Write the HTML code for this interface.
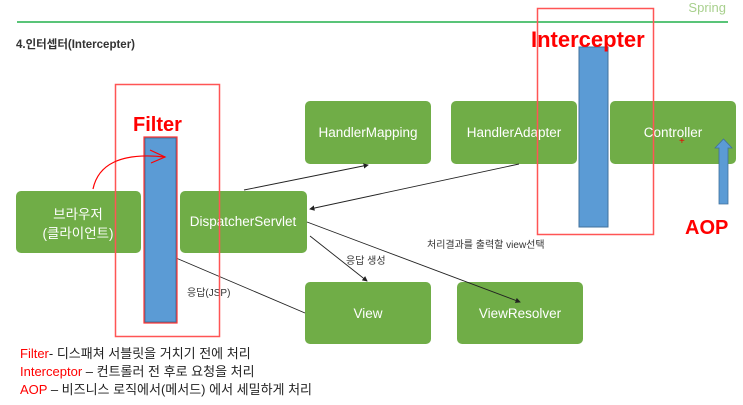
<!DOCTYPE html>
<html><head><meta charset="utf-8"><style>
html,body{margin:0;padding:0;background:#fff;width:743px;height:405px;overflow:hidden}
svg{display:block}
text{font-family:"Liberation Sans","Noto Sans CJK KR",sans-serif}
</style></head><body>
<svg width="743" height="405" viewBox="0 0 743 405">
<defs>
<marker id="a" markerWidth="6" markerHeight="6" refX="5" refY="3" orient="auto"><path d="M0,0 L6,3 L0,6 z" fill="#222"/></marker>
</defs>
<text x="726" y="12" font-size="13" fill="#a8d08d" text-anchor="end">Spring</text>
<line x1="17" y1="22" x2="728" y2="22" stroke="#22b04c" stroke-width="1.5"/>
<text x="16" y="48" font-size="11.5" font-weight="bold" fill="#333">4.인터셉터(Intercepter)</text>

<g fill="#70ad47">
<rect x="305" y="101" width="126" height="63" rx="5"/>
<rect x="451" y="101" width="126" height="63" rx="5"/>
<rect x="610" y="101" width="126" height="63" rx="5"/>
<rect x="16" y="191" width="125" height="62" rx="5"/>
<rect x="180" y="191" width="127" height="62" rx="5"/>
<rect x="305" y="282" width="126" height="62" rx="5"/>
<rect x="457" y="282" width="126" height="62" rx="5"/>
</g>
<g fill="#fff" font-size="13.5" text-anchor="middle">
<text x="368" y="137">HandlerMapping</text>
<text x="514" y="137">HandlerAdapter</text>
<text x="673" y="137">Controller</text>
<text x="78" y="219">브라우저</text>
<text x="78" y="238">(클라이언트)</text>
<text x="243" y="226">DispatcherServlet</text>
<text x="368" y="318">View</text>
<text x="520" y="318">ViewResolver</text>
</g>
<text x="679" y="144" font-size="10" fill="#e00">+</text>

<g stroke="#222" stroke-width="0.9" fill="none" marker-end="url(#a)">
<line x1="244" y1="190" x2="368" y2="165"/>
<line x1="519" y1="164" x2="310" y2="209"/>
<line x1="307" y1="222" x2="520" y2="302"/>
<line x1="310" y1="236" x2="367" y2="281"/>
<line x1="305" y1="313" x2="176" y2="258" marker-end="none"/>
<line x1="145" y1="245" x2="144" y2="243"/>
</g>
<g font-size="10" fill="#333">
<text x="346" y="264">응답 생성</text>
<text x="427" y="248">처리결과를 출력할 view선택</text>
<text x="187" y="296">응답(JSP)</text>
</g>

<!-- Filter -->
<rect x="145" y="138" width="31" height="184" fill="#5b9bd5" stroke="#41719c" stroke-width="1"/>
<rect x="144" y="137" width="33" height="186" fill="none" stroke="#f33" stroke-width="1.2"/>
<rect x="115.5" y="84.5" width="104" height="252" fill="none" stroke="#f55" stroke-width="1.5"/>
<text x="133" y="131" font-size="20" font-weight="bold" fill="#f00">Filter</text>
<path d="M93,189 C98,165 120,152 165,157" stroke="#f00" stroke-width="1.2" fill="none"/>
<path d="M150,150 L165,157 L151,163" stroke="#f00" stroke-width="1.2" fill="none"/>

<!-- Intercepter -->
<rect x="579" y="47" width="29" height="180" fill="#5b9bd5" stroke="#41719c" stroke-width="1"/>
<rect x="537.5" y="8.5" width="116" height="226" fill="none" stroke="#f55" stroke-width="1.5"/>
<text x="531" y="47" font-size="22" font-weight="bold" fill="#f00">Intercepter</text>

<!-- AOP -->
<path d="M719,204 L719,148 L715,148 L723.5,139 L732,148 L728,148 L728,204 Z" fill="#5b9bd5" stroke="#41719c" stroke-width="0.8"/>
<text x="685" y="234" font-size="20" font-weight="bold" fill="#f00">AOP</text>

<g font-size="13" fill="#222">
<text x="20" y="358"><tspan fill="#f00">Filter</tspan>- 디스패쳐 서블릿을 거치기 전에 처리</text>
<text x="20" y="376"><tspan fill="#f00">Interceptor</tspan> – 컨트롤러 전 후로 요청을 처리</text>
<text x="20" y="394"><tspan fill="#f00">AOP</tspan> – 비즈니스 로직에서(메서드) 에서 세밀하게 처리</text>
</g>
</svg>
</body></html>
